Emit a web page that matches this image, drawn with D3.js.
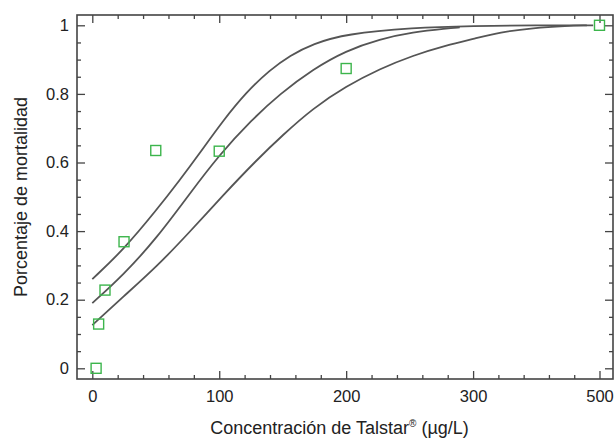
<!DOCTYPE html>
<html>
<head>
<meta charset="utf-8">
<script src="https://cdn.jsdelivr.net/npm/d3@7"></script>
<style>
  body { margin: 0; background: #fff; }
  text { font-family: "Liberation Sans", Arial, sans-serif; fill: #222; }
</style>
</head>
<body>
<svg width="614" height="442"></svg>
<script>
// observed mortality (squares)
var concentrations = [3, 5, 10, 25, 50, 100, 200, 500];
var mortality = [0, 0.129, 0.228, 0.369, 0.635, 0.633, 0.874, 1.0];

// fitted curves: [concentration, mortality]
var upperCurve = [[0,0.26],[24.4,0.345],[50.7,0.462],[69,0.549],[84.6,0.627],[103,0.722],
	[121.6,0.806],[140,0.87],[155.7,0.912],[173.8,0.946],[199.8,0.975],[252.5,0.993],[300,0.998],[400,1.0],[490,1.0]];
var middleCurve = [[0,0.19],[24.4,0.272],[50.7,0.379],[76.9,0.51],[100,0.622],[125.5,0.724],
	[147.8,0.8],[173.8,0.872],[199.8,0.926],[226.5,0.96],
	[252.5,0.98],[279.3,0.991],[289.5,0.994]];
var lowerCurve = [[0,0.126],[24.4,0.209],[50.7,0.296],[76.9,0.398],[103.1,0.505],[129.4,0.607],
	[150,0.68],[173.8,0.758],[199.8,0.822],[226.5,0.873],[252.5,0.912],[279.3,0.942],
	[300,0.96],[342.7,0.98],[394.9,0.992],[448.6,0.998],[480,1.0]];

var xMajor = [0, 100, 200, 300, 500];
var xMinor = [20, 40, 60, 80, 120, 140, 160, 180, 220, 240, 260, 280, 340, 380, 420, 460];
var yMajor = [0, 0.2, 0.4, 0.6, 0.8, 1];
var yMinor = [0.05, 0.1, 0.15, 0.25, 0.3, 0.35, 0.45, 0.5, 0.55, 0.65, 0.7, 0.75, 0.85, 0.9, 0.95];

var frame = {left: 77, right: 613, top: 15, bottom: 379};

var svg = d3.select("svg");

// axis break after 300: 300..500 gets the same width as 100 units
var x = d3.scaleLinear().domain([0, 300, 500]).range([92.3, 473.1, 599.5]);
var y = d3.scaleLinear().domain([0, 1]).range([368.3, 25.3]);

function styleAxis(g){
	g.select(".domain").remove();
	g.selectAll(".tick line").attr("stroke", "#444").attr("stroke-width", 1.3);
}

// bottom
svg.append("g").attr("transform", "translate(0," + frame.bottom + ")")
	.call(d3.axisBottom(x).tickValues(xMajor).tickSize(-8).tickPadding(11).tickFormat(function(d){ return d; }))
	.call(styleAxis)
	.selectAll("text").attr("font-size", 16.5).attr("fill", "#222");
svg.append("g").attr("transform", "translate(0," + frame.bottom + ")")
	.call(d3.axisBottom(x).tickValues(xMinor).tickSize(-4).tickFormat(""))
	.call(styleAxis);
// top
svg.append("g").attr("transform", "translate(0," + frame.top + ")")
	.call(d3.axisTop(x).tickValues(xMajor).tickSize(-8).tickFormat(""))
	.call(styleAxis);
svg.append("g").attr("transform", "translate(0," + frame.top + ")")
	.call(d3.axisTop(x).tickValues(xMinor).tickSize(-4).tickFormat(""))
	.call(styleAxis);
// left
svg.append("g").attr("transform", "translate(" + frame.left + ",0)")
	.call(d3.axisLeft(y).tickValues(yMajor).tickSize(-8).tickPadding(8).tickFormat(function(d){ return d; }))
	.call(styleAxis)
	.selectAll("text").attr("font-size", 16.5).attr("fill", "#222");
svg.append("g").attr("transform", "translate(" + frame.left + ",0)")
	.call(d3.axisLeft(y).tickValues(yMinor).tickSize(-4).tickFormat(""))
	.call(styleAxis);
// right
svg.append("g").attr("transform", "translate(" + frame.right + ",0)")
	.call(d3.axisRight(y).tickValues(yMajor).tickSize(-8).tickFormat(""))
	.call(styleAxis);
svg.append("g").attr("transform", "translate(" + frame.right + ",0)")
	.call(d3.axisRight(y).tickValues(yMinor).tickSize(-4).tickFormat(""))
	.call(styleAxis);

svg.selectAll(".tick text").attr("font-family", "Liberation Sans, Arial, sans-serif");

// frame
svg.append("rect")
	.attr("x", frame.left).attr("y", frame.top)
	.attr("width", frame.right - frame.left).attr("height", frame.bottom - frame.top)
	.attr("fill", "none").attr("stroke", "#444").attr("stroke-width", 1.6);

// curves
var line = d3.line()
	.x(function(d){ return x(d[0]); })
	.y(function(d){ return y(d[1]); })
	.curve(d3.curveBasis);

svg.selectAll(".fit")
	.data([upperCurve, middleCurve, lowerCurve])
	.enter()
	.append("path")
	.attr("class", "fit")
	.attr("d", line)
	.attr("fill", "none")
	.attr("stroke", "#555")
	.attr("stroke-width", 1.8);

// observed squares
var pts = concentrations.map(function(c, i){ return {c: c, m: mortality[i]}; });
svg.selectAll(".obs")
	.data(pts)
	.enter()
	.append("rect")
	.attr("class", "obs")
	.attr("x", function(d){ return x(d.c) - 5; })
	.attr("y", function(d){ return y(d.m) - 5; })
	.attr("width", 10)
	.attr("height", 10)
	.attr("fill", "none")
	.attr("stroke", "#3cb54c")
	.attr("stroke-width", 1.4);

// titles
var xt = svg.append("text")
	.attr("x", 339.5).attr("y", 434)
	.attr("text-anchor", "middle")
	.attr("font-size", 18);
xt.append("tspan").text("Concentración de Talstar");
xt.append("tspan").text("®").attr("font-size", 10).attr("dy", -7);
xt.append("tspan").text(" (µg/L)").attr("dy", 7);

svg.append("text")
	.attr("transform", "translate(26.5,197) rotate(-90)")
	.attr("text-anchor", "middle")
	.attr("font-size", 18)
	.text("Porcentaje de mortalidad");
</script>
</body>
</html>
